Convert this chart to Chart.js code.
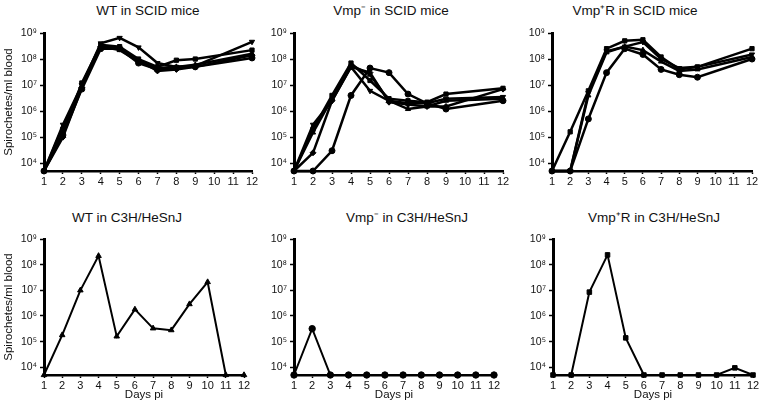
<!DOCTYPE html>
<html>
<head>
<meta charset="utf-8">
<script src="https://cdn.jsdelivr.net/npm/chart.js@4.4.0/dist/chart.umd.min.js"></script>
<style>
  body { margin: 0; background: #fff; }
  #wrap { position: relative; width: 762px; height: 411px; overflow: hidden; font-family: "Liberation Sans", Arial, sans-serif; }
  canvas { position: absolute; }
  .ttl { position: absolute; font-size: 13.5px; font-weight: normal; color: #111; transform: translate(-50%, -50%); white-space: nowrap; }
</style>
</head>
<body>
<div id="wrap">
  <div class="ttl" style="left:148px;top:10px">WT in SCID mice</div>
  <div class="ttl" style="left:391px;top:10px">Vmp⁻ in SCID mice</div>
  <div class="ttl" style="left:635px;top:10px">Vmp⁺R in SCID mice</div>
  <div class="ttl" style="left:127px;top:217px">WT in C3H/HeSnJ</div>
  <div class="ttl" style="left:407px;top:217px">Vmp⁻ in C3H/HeSnJ</div>
  <div class="ttl" style="left:654px;top:217px">Vmp⁺R in C3H/HeSnJ</div>
  <canvas id="c1" width="262" height="200" style="left:0;top:0"></canvas>
  <canvas id="c2" width="254" height="200" style="left:262px;top:0"></canvas>
  <canvas id="c3" width="246" height="200" style="left:516px;top:0"></canvas>
  <canvas id="c4" width="262" height="206" style="left:0;top:205px"></canvas>
  <canvas id="c5" width="254" height="206" style="left:262px;top:205px"></canvas>
  <canvas id="c6" width="246" height="206" style="left:516px;top:205px"></canvas>
</div>
<script>
// days post infection (no samples on days 10 and 11 in SCID mice)
const days = ['1', '2', '3', '4', '5', '6', '7', '8', '9', '10', '11', '12'];
const yTickValues = [1e4, 1e5, 1e6, 1e7, 1e8, 1e9];
const yTickLabels = ['10⁴', '10⁵', '10⁶', '10⁷', '10⁸', '10⁹'];

// WT in SCID mice, one array per mouse
const wtScidCircle   = [5e3, 1.2e5, 7e6, 2.5e8, 2.5e8, 7e7, 4e7, 4.5e7, 5e7, null, null, 1.1e8];
const wtScidSquare   = [5e3, 1.5e5, 1.2e7, 3.5e8, 3e8, 1e8, 5e7, 9e7, 1e8, null, null, 2.2e8];
const wtScidTriangle = [5e3, 2.5e5, 9e6, 3e8, 2.2e8, 8e7, 4.5e7, 5e7, 6e7, null, null, 1.6e8];
const wtScidInvTri   = [5e3, 3e5, 1e7, 4e8, 6.5e8, 2.8e8, 7e7, 5e7, 5.5e7, null, null, 4.6e8];
const wtScidDiamond  = [5e3, 1e5, 8e6, 3e8, 2.8e8, 9e7, 3.5e7, 4e7, 5e7, null, null, 1.4e8];

// Vmp- in SCID mice
const vmpScidCircle   = [5e3, 5e3, 3e4, 4e6, 4.5e7, 3e7, 4.5e6, 2e6, 1.2e6, null, null, 2.5e6];
const vmpScidSquare   = [5e3, 2e5, 4e6, 7e7, 1.5e7, 3e6, 2.5e6, 2.2e6, 4.5e6, null, null, 7.5e6];
const vmpScidTriangle = [5e3, 1.5e5, 3e6, 6e7, 2.5e7, 2.5e6, 1.2e6, 1.5e6, 2.5e6, null, null, 3e6];
const vmpScidInvTri   = [5e3, 3e5, 2.5e6, 5e7, 6e6, 2.5e6, 2e6, 2e6, 3e6, null, null, 3.5e6];
const vmpScidDiamond  = [5e3, 2.5e4, 2.5e6, 5e7, 3e7, 2.2e6, 1.8e6, 1.5e6, 1.5e6, null, null, 7e6];

// Vmp+R in SCID mice
const vmpRScidSquare   = [5e3, 1.6e5, 6e6, 2.5e8, 5e8, 5.5e8, 1.2e8, 4e7, 5e7, null, null, 2.5e8];
const vmpRScidCircle   = [5e3, 5e3, 5e5, 3e7, 2.5e8, 1.5e8, 4e7, 2.5e7, 2e7, null, null, 1e8];
const vmpRScidTriangle = [5e3, 5e3, 4e6, 1.8e8, 3e8, 2.2e8, 8e7, 3.5e7, 4e7, null, null, 1.2e8];
const vmpRScidInvTri   = [5e3, 5e3, 5e6, 2e8, 3e8, 4.5e8, 1e8, 4.5e7, 5e7, null, null, 1.5e8];

// C3H/HeSnJ mice
const wtC3h   = [5e3, 1.8e5, 1e7, 2.2e8, 1.6e5, 1.8e6, 3.3e5, 2.8e5, 2.9e6, 2.1e7, 5e3, 5e3];
const vmpC3h  = [5e3, 3.2e5, 5e3, 5e3, 5e3, 5e3, 5e3, 5e3, 5e3, 5e3, 5e3, 5e3];
const vmpRC3h = [5e3, 5e3, 8.5e6, 2.4e8, 1.4e5, 5e3, 5e3, 5e3, 5e3, 5e3, 9.5e3, 5e3];

const markers = {
  circle: { pointStyle: 'circle', rotation: 0 },
  square: { pointStyle: 'rect', rotation: 0 },
  triangle: { pointStyle: 'triangle', rotation: 0 },
  invTri: { pointStyle: 'triangle', rotation: 180 },
  diamond: { pointStyle: 'rectRot', rotation: 0 }
};

function panel(id, series, cfg) {
  const ctx = document.getElementById(id).getContext('2d');
  new Chart(ctx, {
    type: 'line',
    data: {
      labels: days,
      datasets: series.map(function(s) {
        return {
          data: s.data,
          borderColor: '#000',
          backgroundColor: '#000',
          borderWidth: cfg.lineWidth,
          pointStyle: markers[s.marker].pointStyle,
          rotation: markers[s.marker].rotation,
          pointRadius: cfg.pointRadius,
          pointBorderWidth: 1,
          spanGaps: true,
          tension: 0,
          clip: false
        };
      })
    },
    options: {
      responsive: false,
      animation: false,
      devicePixelRatio: 1,
      layout: { padding: cfg.padding },
      plugins: { legend: { display: false }, tooltip: { enabled: false }, title: { display: false } },
      scales: {
        x: {
          type: 'category',
          offset: false,
          afterFit: function(scale) { scale.height = cfg.xHeight; },
          border: { display: true, color: '#000', width: 2.5 },
          grid: { drawOnChartArea: false, drawTicks: true, tickLength: 3, tickColor: '#000', tickWidth: 1.5 },
          ticks: { color: '#111', autoSkip: false, maxRotation: 0, padding: 1,
                   font: { family: 'Liberation Sans', size: 11 } },
          title: { display: cfg.xTitle, text: 'Days pi', color: '#111', padding: 0,
                   font: { family: 'Liberation Sans', size: 11.5 } }
        },
        y: {
          type: 'logarithmic',
          min: 5000,
          max: 1e9,
          afterFit: function(scale) { scale.width = cfg.yWidth; },
          afterBuildTicks: function(scale) {
            scale.ticks = yTickValues.map(function(v) { return { value: v }; });
          },
          border: { display: true, color: '#000', width: 3 },
          grid: { drawOnChartArea: false, drawTicks: true, tickLength: 4, tickColor: '#000', tickWidth: 1.5 },
          ticks: {
            color: '#111',
            padding: 3,
            font: { family: 'Liberation Sans', size: 10.5 },
            callback: function(value) {
              const i = yTickValues.indexOf(value);
              return i >= 0 ? yTickLabels[i] : '';
            }
          },
          title: { display: cfg.yTitle, text: 'Spirochetes/ml blood', color: '#111', padding: 0,
                   font: { family: 'Liberation Sans', size: 11.5 } }
        }
      }
    }
  });
}

const topRow = { lineWidth: 2.5, pointRadius: 3, xHeight: 29, xTitle: false };
const bottomRow = { lineWidth: 2, pointRadius: 3.2, xHeight: 27, xTitle: true };

panel('c1', [
  { data: wtScidCircle, marker: 'circle' },
  { data: wtScidSquare, marker: 'square' },
  { data: wtScidTriangle, marker: 'triangle' },
  { data: wtScidInvTri, marker: 'invTri' },
  { data: wtScidDiamond, marker: 'diamond' }
], Object.assign({}, topRow, { yWidth: 42, yTitle: true, padding: { left: 2, right: 10, top: 33, bottom: 0 } }));

panel('c2', [
  { data: vmpScidCircle, marker: 'circle' },
  { data: vmpScidSquare, marker: 'square' },
  { data: vmpScidTriangle, marker: 'triangle' },
  { data: vmpScidInvTri, marker: 'invTri' },
  { data: vmpScidDiamond, marker: 'diamond' }
], Object.assign({}, topRow, { yWidth: 32, yTitle: false, padding: { left: 0, right: 13, top: 33, bottom: 0 } }));

panel('c3', [
  { data: vmpRScidSquare, marker: 'square' },
  { data: vmpRScidCircle, marker: 'circle' },
  { data: vmpRScidTriangle, marker: 'triangle' },
  { data: vmpRScidInvTri, marker: 'invTri' }
], Object.assign({}, topRow, { yWidth: 36, yTitle: false, padding: { left: 0, right: 10, top: 33, bottom: 0 } }));

panel('c4', [
  { data: wtC3h, marker: 'triangle' }
], Object.assign({}, bottomRow, { yWidth: 42, yTitle: true, padding: { left: 2, right: 18, top: 34, bottom: 9 } }));

panel('c5', [
  { data: vmpC3h, marker: 'circle' }
], Object.assign({}, bottomRow, { yWidth: 32, yTitle: false, padding: { left: 0, right: 22, top: 34, bottom: 9 } }));

panel('c6', [
  { data: vmpRC3h, marker: 'square' }
], Object.assign({}, bottomRow, { yWidth: 37, yTitle: false, padding: { left: 0, right: 9, top: 34, bottom: 9 } }));
</script>
</body>
</html>
